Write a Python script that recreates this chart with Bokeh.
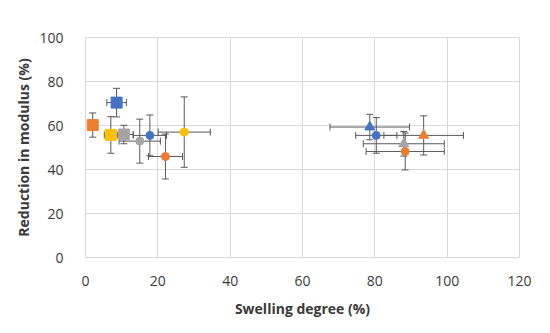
from bokeh.plotting import figure
from bokeh.models import ColumnDataSource, Range1d, SingleIntervalTicker, Whisker, TeeHead, BoxAnnotation
from bokeh.embed import file_html
from bokeh.resources import INLINE

# ---- data ----
# squares: blue, orange, yellow, gray
sq_x = [8.6, 2.0, 7.0, 10.6]
sq_y = [70.4, 60.2, 55.7, 55.9]
sq_xerr = [2.7, 1.0, 1.8, 2.6]
sq_yerr = [6.5, 5.5, 8.3, 4.2]
sq_col = ["#4472C4", "#ED7D31", "#FFC000", "#A5A5A5"]

# circles: blue, blue, orange, orange, gray, yellow
ci_x = [17.8, 80.4, 22.1, 88.4, 15.0, 27.3]
ci_y = [55.5, 55.5, 45.9, 48.2, 52.9, 57.0]
ci_xerr = [4.6, 5.7, 4.7, 10.8, 5.7, 7.2]
ci_yerr = [9.3, 8.1, 10.2, 8.4, 10.0, 16.0]
ci_col = ["#4472C4", "#4472C4", "#ED7D31", "#ED7D31", "#A5A5A5", "#FFC000"]

# triangles: blue, orange, gray
tr_x = [78.6, 93.5, 88.0]
tr_y = [59.3, 55.5, 51.7]
tr_xerr = [11.0, 11.0, 11.2]
tr_yerr = [5.8, 8.9, 5.6]
tr_col = ["#4472C4", "#ED7D31", "#A5A5A5"]

x_ticks_interval = 20
y_ticks_interval = 20

FONT = "Open Sans"
TXT = "#3A3A3A"
GRID = "#D9D9D9"
ERR = "#595959"

p = figure(width=550, height=333, output_backend="svg", toolbar_location=None,
           x_range=Range1d(0, 120), y_range=Range1d(0, 100),
           min_border_left=85, min_border_right=31, min_border_top=37, min_border_bottom=76)

p.xaxis.ticker = SingleIntervalTicker(interval=x_ticks_interval)
p.yaxis.ticker = SingleIntervalTicker(interval=y_ticks_interval)
for ax in (p.xaxis[0], p.yaxis[0]):
    ax.axis_line_color = None
    ax.major_tick_line_color = None
    ax.minor_tick_line_color = None
    ax.major_tick_out = 0
    ax.major_tick_in = 0
    ax.major_label_text_font = FONT
    ax.major_label_text_font_size = "14px"
    ax.major_label_text_color = TXT
    ax.axis_label_text_font = FONT
    ax.axis_label_text_font_size = "14px"
    ax.axis_label_text_font_style = "bold"
    ax.axis_label_text_color = TXT
p.xaxis.axis_label = "Swelling degree (%)"
p.yaxis.axis_label = "Reduction in modulus (%)"
p.xaxis.major_label_standoff = 14
p.yaxis.major_label_standoff = 18
p.xaxis.axis_label_standoff = 10
p.yaxis.axis_label_standoff = 3

p.xgrid.grid_line_color = GRID
p.ygrid.grid_line_color = GRID
p.outline_line_color = GRID
p.background_fill_color = "white"
p.border_fill_color = "white"

# outer chart-area border (canvas pixels)
p.add_layout(BoxAnnotation(left=4, right=545, top=5, bottom=328,
                           left_units="canvas", right_units="canvas",
                           top_units="canvas", bottom_units="canvas",
                           fill_color=None, fill_alpha=0, line_color=GRID,
                           line_width=1, level="overlay", editable=False))


def add_group(xs, ys, xe, ye, cols):
    src = ColumnDataSource(dict(
        x=xs, y=ys, col=cols,
        xl=[a - b for a, b in zip(xs, xe)], xu=[a + b for a, b in zip(xs, xe)],
        yl=[a - b for a, b in zip(ys, ye)], yu=[a + b for a, b in zip(ys, ye)],
    ))
    for dim, base, lo, up in (("width", "y", "xl", "xu"), ("height", "x", "yl", "yu")):
        w = Whisker(source=src, base=base, lower=lo, upper=up, dimension=dim,
                    line_color=ERR, line_width=1, level="underlay",
                    lower_head=TeeHead(size=7, line_color=ERR, line_width=1),
                    upper_head=TeeHead(size=7, line_color=ERR, line_width=1))
        p.add_layout(w)
    return src


groups = [
    (add_group(sq_x, sq_y, sq_xerr, sq_yerr, sq_col), "square", 11),
    (add_group(ci_x, ci_y, ci_xerr, ci_yerr, ci_col), "circle", 8),
    (add_group(tr_x, tr_y, tr_xerr, tr_yerr, tr_col), "triangle", 10),
]
for src, marker, size in groups:
    p.scatter("x", "y", source=src, marker=marker, size=size,
              fill_color="col", line_color="col")

open("out.html", "w").write(file_html(p, INLINE))
